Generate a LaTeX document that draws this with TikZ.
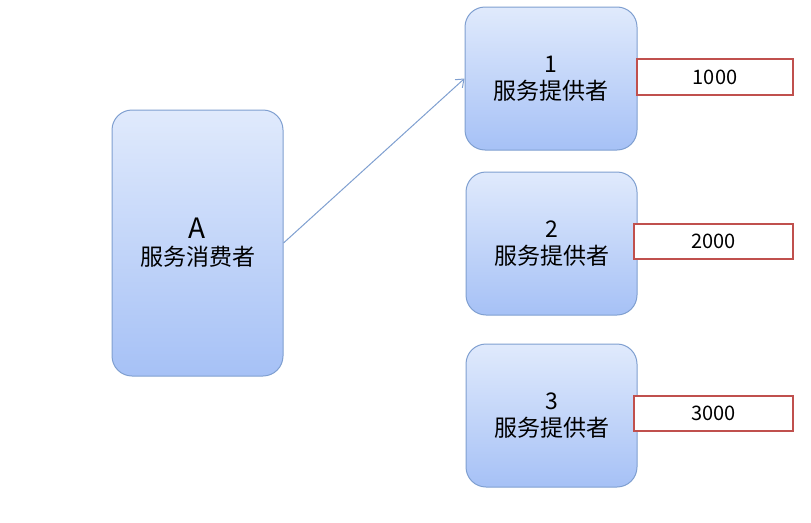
\documentclass[tikz,border=0pt]{standalone}
\usepackage{fontspec}
\setmainfont{Noto Sans CJK SC}
\usetikzlibrary{arrows.meta}
\definecolor{bd}{HTML}{7F9FD0}
\definecolor{tp}{HTML}{E0EAFC}
\definecolor{bt}{HTML}{A6C1F6}
\definecolor{rd}{HTML}{C0504D}
\tikzset{
  box/.style={draw=bd,line width=1pt,rounded corners=20pt,top color=tp,bottom color=bt,align=center,inner sep=0pt,font=\fontsize{23}{27}\selectfont},
  val/.style={draw=rd,line width=2pt,fill=white,inner sep=0pt,font=\fontsize{20}{22}\selectfont},
}
\begin{document}
\begin{tikzpicture}[x=1pt,y=-1pt]
\useasboundingbox (0,0) rectangle (811,522);
\node[box,minimum width=171pt,minimum height=266pt] (a) at (197.5,243) {{\fontsize{28}{31}\selectfont A}\\服务消费者};
\node[box,minimum width=172pt,minimum height=143pt] (p1) at (551,78.5) {1\\服务提供者};
\node[box,minimum width=171pt,minimum height=143pt] (p2) at (551.5,243.5) {2\\服务提供者};
\node[box,minimum width=171pt,minimum height=143pt] (p3) at (551.5,415.5) {3\\服务提供者};
\node[val,minimum width=156pt,minimum height=36pt] (v1) at (715,77) {1000};
\node[val,minimum width=159pt,minimum height=35pt] (v2) at (713.5,241.5) {2000};
\node[val,minimum width=159pt,minimum height=35pt] (v3) at (713.5,413.5) {3000};
\draw[bd,line width=1pt,-{Straight Barb[length=7pt,width=11pt]}] (a.east) -- (p1.west);
\end{tikzpicture}
\end{document}
